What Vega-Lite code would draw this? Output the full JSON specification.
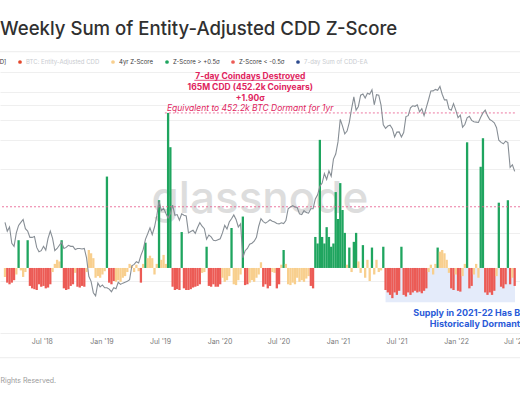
{
  "$schema": "https://vega.github.io/schema/vega-lite/v6.json",
  "description": "Weekly sum of entity-adjusted CDD z-score with BTC price (log)",
  "width": 520,
  "height": 263,
  "autosize": "none",
  "padding": {"left": 0, "right": 0, "top": 70, "bottom": 67},
  "background": "white",
  "title": {
    "text": "Weekly Sum of Entity-Adjusted CDD Z-Score",
    "anchor": "start",
    "frame": "group",
    "font": "Inter",
    "fontSize": 18.6,
    "fontWeight": 500,
    "color": "#303030",
    "offset": 13
  },
  "config": {"view": {"stroke": null}, "font": "Inter"},
  "datasets": {
    "weekly": [
      {"d": "2018-03-09", "p": 9300, "z": -0.11, "c": "y"},
      {"d": "2018-03-16", "p": 8200, "z": -0.18, "c": "r"},
      {"d": "2018-03-23", "p": 8700, "z": -0.2, "c": "r"},
      {"d": "2018-03-30", "p": 6900, "z": -0.18, "c": "r"},
      {"d": "2018-04-06", "p": 6600, "z": -0.15, "c": "r"},
      {"d": "2018-04-13", "p": 8000, "z": -0.08, "c": "y"},
      {"d": "2018-04-20", "p": 8900, "z": 0.34, "c": "g"},
      {"d": "2018-04-27", "p": 9300, "z": -0.03, "c": "y"},
      {"d": "2018-05-04", "p": 9700, "z": -0.11, "c": "y"},
      {"d": "2018-05-11", "p": 8500, "z": -0.05, "c": "y"},
      {"d": "2018-05-18", "p": 8200, "z": 0.34, "c": "g"},
      {"d": "2018-05-25", "p": 7500, "z": -0.22, "c": "r"},
      {"d": "2018-06-01", "p": 7500, "z": -0.25, "c": "r"},
      {"d": "2018-06-08", "p": 7600, "z": -0.26, "c": "r"},
      {"d": "2018-06-15", "p": 6500, "z": -0.27, "c": "r"},
      {"d": "2018-06-22", "p": 6100, "z": -0.2, "c": "r"},
      {"d": "2018-06-29", "p": 6200, "z": -0.23, "c": "r"},
      {"d": "2018-07-06", "p": 6600, "z": -0.22, "c": "r"},
      {"d": "2018-07-13", "p": 6250, "z": -0.25, "c": "r"},
      {"d": "2018-07-20", "p": 7400, "z": -0.24, "c": "r"},
      {"d": "2018-07-27", "p": 8200, "z": -0.2, "c": "r"},
      {"d": "2018-08-03", "p": 7400, "z": -0.05, "c": "y"},
      {"d": "2018-08-10", "p": 6200, "z": 0.05, "c": "y"},
      {"d": "2018-08-17", "p": 6400, "z": 0.1, "c": "y"},
      {"d": "2018-08-24", "p": 6700, "z": 0.08, "c": "y"},
      {"d": "2018-08-31", "p": 7000, "z": 0.34, "c": "g"},
      {"d": "2018-09-07", "p": 6400, "z": -0.25, "c": "r"},
      {"d": "2018-09-14", "p": 6500, "z": -0.27, "c": "r"},
      {"d": "2018-09-21", "p": 6700, "z": -0.26, "c": "r"},
      {"d": "2018-09-28", "p": 6600, "z": -0.22, "c": "r"},
      {"d": "2018-10-05", "p": 6600, "z": -0.2, "c": "r"},
      {"d": "2018-10-12", "p": 6300, "z": -0.06, "c": "y"},
      {"d": "2018-10-19", "p": 6400, "z": -0.23, "c": "r"},
      {"d": "2018-10-26", "p": 6400, "z": -0.24, "c": "r"},
      {"d": "2018-11-02", "p": 6350, "z": -0.22, "c": "r"},
      {"d": "2018-11-09", "p": 6400, "z": -0.23, "c": "r"},
      {"d": "2018-11-16", "p": 5600, "z": -0.05, "c": "y"},
      {"d": "2018-11-23", "p": 4300, "z": 0.22, "c": "y"},
      {"d": "2018-11-30", "p": 4000, "z": 0.18, "c": "y"},
      {"d": "2018-12-07", "p": 3400, "z": 0.12, "c": "y"},
      {"d": "2018-12-14", "p": 3250, "z": -0.12, "c": "y"},
      {"d": "2018-12-21", "p": 3900, "z": -0.1, "c": "y"},
      {"d": "2018-12-28", "p": 3700, "z": -0.12, "c": "y"},
      {"d": "2019-01-04", "p": 3800, "z": -0.08, "c": "y"},
      {"d": "2019-01-11", "p": 3650, "z": -0.04, "c": "y"},
      {"d": "2019-01-18", "p": 3650, "z": 1.12, "c": "g"},
      {"d": "2019-01-25", "p": 3580, "z": -0.18, "c": "r"},
      {"d": "2019-02-01", "p": 3450, "z": -0.2, "c": "r"},
      {"d": "2019-02-08", "p": 3650, "z": -0.16, "c": "r"},
      {"d": "2019-02-15", "p": 3600, "z": -0.17, "c": "y"},
      {"d": "2019-02-22", "p": 3950, "z": -0.15, "c": "y"},
      {"d": "2019-03-01", "p": 3830, "z": -0.17, "c": "y"},
      {"d": "2019-03-08", "p": 3900, "z": -0.12, "c": "y"},
      {"d": "2019-03-15", "p": 3950, "z": -0.1, "c": "y"},
      {"d": "2019-03-22", "p": 4000, "z": -0.05, "c": "y"},
      {"d": "2019-03-29", "p": 4100, "z": 0.05, "c": "y"},
      {"d": "2019-04-05", "p": 5000, "z": 0.03, "c": "y"},
      {"d": "2019-04-12", "p": 5100, "z": -0.05, "c": "y"},
      {"d": "2019-04-19", "p": 5300, "z": 0.04, "c": "y"},
      {"d": "2019-04-26", "p": 5200, "z": -0.04, "c": "y"},
      {"d": "2019-05-03", "p": 5800, "z": -0.18, "c": "r"},
      {"d": "2019-05-10", "p": 6300, "z": 0.05, "c": "y"},
      {"d": "2019-05-17", "p": 7300, "z": 0.31, "c": "g"},
      {"d": "2019-05-24", "p": 7900, "z": 0.12, "c": "y"},
      {"d": "2019-05-31", "p": 8600, "z": 0.15, "c": "y"},
      {"d": "2019-06-07", "p": 7800, "z": 0.12, "c": "y"},
      {"d": "2019-06-14", "p": 8700, "z": -0.08, "c": "y"},
      {"d": "2019-06-21", "p": 10200, "z": 0.05, "c": "y"},
      {"d": "2019-06-28", "p": 12600, "z": 0.83, "c": "g"},
      {"d": "2019-07-05", "p": 11000, "z": 0.1, "c": "y"},
      {"d": "2019-07-12", "p": 11400, "z": 0.16, "c": "y"},
      {"d": "2019-07-19", "p": 10600, "z": 0.05, "c": "y"},
      {"d": "2019-07-26", "p": 9900, "z": 1.9, "c": "g"},
      {"d": "2019-08-02", "p": 10500, "z": 1.48, "c": "g"},
      {"d": "2019-08-09", "p": 11900, "z": -0.23, "c": "r"},
      {"d": "2019-08-16", "p": 10300, "z": -0.27, "c": "r"},
      {"d": "2019-08-23", "p": 10400, "z": -0.26, "c": "r"},
      {"d": "2019-08-30", "p": 9600, "z": -0.27, "c": "r"},
      {"d": "2019-09-06", "p": 10500, "z": 0.44, "c": "g"},
      {"d": "2019-09-13", "p": 10300, "z": -0.25, "c": "r"},
      {"d": "2019-09-20", "p": 10200, "z": -0.27, "c": "r"},
      {"d": "2019-09-27", "p": 8000, "z": -0.27, "c": "r"},
      {"d": "2019-10-04", "p": 8150, "z": -0.26, "c": "r"},
      {"d": "2019-10-11", "p": 8300, "z": -0.24, "c": "r"},
      {"d": "2019-10-18", "p": 7950, "z": -0.23, "c": "r"},
      {"d": "2019-10-25", "p": 8650, "z": -0.22, "c": "r"},
      {"d": "2019-11-01", "p": 9250, "z": -0.2, "c": "r"},
      {"d": "2019-11-08", "p": 8800, "z": -0.06, "c": "y"},
      {"d": "2019-11-15", "p": 8500, "z": -0.05, "c": "y"},
      {"d": "2019-11-22", "p": 7300, "z": 0.26, "c": "g"},
      {"d": "2019-11-29", "p": 7750, "z": -0.22, "c": "r"},
      {"d": "2019-12-06", "p": 7550, "z": -0.23, "c": "r"},
      {"d": "2019-12-13", "p": 7200, "z": -0.2, "c": "r"},
      {"d": "2019-12-20", "p": 7150, "z": -0.23, "c": "r"},
      {"d": "2019-12-27", "p": 7250, "z": -0.23, "c": "r"},
      {"d": "2020-01-03", "p": 7350, "z": -0.2, "c": "r"},
      {"d": "2020-01-10", "p": 8000, "z": -0.12, "c": "y"},
      {"d": "2020-01-17", "p": 8900, "z": -0.17, "c": "y"},
      {"d": "2020-01-24", "p": 8450, "z": -0.15, "c": "y"},
      {"d": "2020-01-31", "p": 9350, "z": -0.1, "c": "y"},
      {"d": "2020-02-07", "p": 9800, "z": 0.49, "c": "g"},
      {"d": "2020-02-14", "p": 10350, "z": -0.2, "c": "y"},
      {"d": "2020-02-21", "p": 9700, "z": -0.21, "c": "y"},
      {"d": "2020-02-28", "p": 8700, "z": -0.15, "c": "y"},
      {"d": "2020-03-06", "p": 9100, "z": -0.08, "c": "y"},
      {"d": "2020-03-13", "p": 5600, "z": 0.63, "c": "g"},
      {"d": "2020-03-20", "p": 6200, "z": -0.21, "c": "r"},
      {"d": "2020-03-27", "p": 6400, "z": -0.2, "c": "r"},
      {"d": "2020-04-03", "p": 6800, "z": -0.18, "c": "y"},
      {"d": "2020-04-10", "p": 6900, "z": -0.15, "c": "y"},
      {"d": "2020-04-17", "p": 7100, "z": -0.17, "c": "y"},
      {"d": "2020-04-24", "p": 7500, "z": -0.12, "c": "y"},
      {"d": "2020-05-01", "p": 8800, "z": -0.08, "c": "y"},
      {"d": "2020-05-08", "p": 9800, "z": 0.07, "c": "y"},
      {"d": "2020-05-15", "p": 9400, "z": -0.23, "c": "r"},
      {"d": "2020-05-22", "p": 9200, "z": -0.2, "c": "r"},
      {"d": "2020-05-29", "p": 9400, "z": -0.25, "c": "r"},
      {"d": "2020-06-05", "p": 9650, "z": -0.22, "c": "r"},
      {"d": "2020-06-12", "p": 9450, "z": -0.05, "c": "y"},
      {"d": "2020-06-19", "p": 9350, "z": -0.06, "c": "y"},
      {"d": "2020-06-26", "p": 9150, "z": -0.25, "c": "r"},
      {"d": "2020-07-03", "p": 9100, "z": -0.2, "c": "r"},
      {"d": "2020-07-10", "p": 9250, "z": 0.04, "c": "y"},
      {"d": "2020-07-17", "p": 9150, "z": 0.22, "c": "g"},
      {"d": "2020-07-24", "p": 9550, "z": 0.05, "c": "y"},
      {"d": "2020-07-31", "p": 11300, "z": -0.2, "c": "y"},
      {"d": "2020-08-07", "p": 11600, "z": -0.21, "c": "y"},
      {"d": "2020-08-14", "p": 11800, "z": -0.18, "c": "y"},
      {"d": "2020-08-21", "p": 11600, "z": -0.2, "c": "y"},
      {"d": "2020-08-28", "p": 11500, "z": -0.12, "c": "y"},
      {"d": "2020-09-04", "p": 10500, "z": -0.17, "c": "y"},
      {"d": "2020-09-11", "p": 10400, "z": -0.15, "c": "y"},
      {"d": "2020-09-18", "p": 11000, "z": -0.17, "c": "y"},
      {"d": "2020-09-25", "p": 10700, "z": -0.13, "c": "y"},
      {"d": "2020-10-02", "p": 10600, "z": -0.1, "c": "y"},
      {"d": "2020-10-09", "p": 11300, "z": -0.22, "c": "r"},
      {"d": "2020-10-16", "p": 11300, "z": -0.25, "c": "r"},
      {"d": "2020-10-23", "p": 13000, "z": 0.38, "c": "g"},
      {"d": "2020-10-30", "p": 13800, "z": 0.3, "c": "g"},
      {"d": "2020-11-06", "p": 15600, "z": 1.57, "c": "g"},
      {"d": "2020-11-13", "p": 16300, "z": 0.38, "c": "g"},
      {"d": "2020-11-20", "p": 18700, "z": 0.3, "c": "g"},
      {"d": "2020-11-27", "p": 17200, "z": 0.5, "c": "g"},
      {"d": "2020-12-04", "p": 19400, "z": 0.38, "c": "g"},
      {"d": "2020-12-11", "p": 18000, "z": 0.26, "c": "g"},
      {"d": "2020-12-18", "p": 23000, "z": 0.3, "c": "g"},
      {"d": "2020-12-25", "p": 24700, "z": 0.93, "c": "g"},
      {"d": "2021-01-01", "p": 29400, "z": 0.6, "c": "g"},
      {"d": "2021-01-08", "p": 40600, "z": 1.04, "c": "g"},
      {"d": "2021-01-15", "p": 36800, "z": 0.71, "c": "g"},
      {"d": "2021-01-22", "p": 33000, "z": 0.43, "c": "g"},
      {"d": "2021-01-29", "p": 34300, "z": 0.04, "c": "y"},
      {"d": "2021-02-05", "p": 38900, "z": 0.25, "c": "g"},
      {"d": "2021-02-12", "p": 47200, "z": -0.05, "c": "y"},
      {"d": "2021-02-19", "p": 55900, "z": 0.32, "c": "g"},
      {"d": "2021-02-26", "p": 46300, "z": 0.43, "c": "g"},
      {"d": "2021-03-05", "p": 48800, "z": 0.08, "c": "y"},
      {"d": "2021-03-12", "p": 57300, "z": -0.06, "c": "y"},
      {"d": "2021-03-19", "p": 58300, "z": 0.28, "c": "g"},
      {"d": "2021-03-26", "p": 55100, "z": -0.12, "c": "y"},
      {"d": "2021-04-02", "p": 59000, "z": 0.1, "c": "y"},
      {"d": "2021-04-09", "p": 58100, "z": -0.16, "c": "y"},
      {"d": "2021-04-16", "p": 62000, "z": 0.25, "c": "g"},
      {"d": "2021-04-23", "p": 50000, "z": -0.08, "c": "y"},
      {"d": "2021-04-30", "p": 57800, "z": 0.1, "c": "y"},
      {"d": "2021-05-07", "p": 57400, "z": -0.05, "c": "y"},
      {"d": "2021-05-14", "p": 49700, "z": -0.03, "c": "y"},
      {"d": "2021-05-21", "p": 37500, "z": 0.26, "c": "g"},
      {"d": "2021-05-28", "p": 35700, "z": -0.27, "c": "r"},
      {"d": "2021-06-04", "p": 36900, "z": -0.3, "c": "r"},
      {"d": "2021-06-11", "p": 37300, "z": -0.33, "c": "r"},
      {"d": "2021-06-18", "p": 35500, "z": -0.37, "c": "r"},
      {"d": "2021-06-25", "p": 31600, "z": -0.3, "c": "r"},
      {"d": "2021-07-02", "p": 33800, "z": -0.33, "c": "r"},
      {"d": "2021-07-09", "p": 33900, "z": -0.28, "c": "r"},
      {"d": "2021-07-16", "p": 31500, "z": 0.26, "c": "g"},
      {"d": "2021-07-23", "p": 33600, "z": -0.33, "c": "r"},
      {"d": "2021-07-30", "p": 42200, "z": -0.35, "c": "r"},
      {"d": "2021-08-06", "p": 42800, "z": -0.3, "c": "r"},
      {"d": "2021-08-13", "p": 47800, "z": -0.33, "c": "r"},
      {"d": "2021-08-20", "p": 49300, "z": -0.3, "c": "r"},
      {"d": "2021-08-27", "p": 48900, "z": -0.28, "c": "r"},
      {"d": "2021-09-03", "p": 50000, "z": -0.3, "c": "r"},
      {"d": "2021-09-10", "p": 45200, "z": -0.29, "c": "r"},
      {"d": "2021-09-17", "p": 47300, "z": -0.31, "c": "r"},
      {"d": "2021-09-24", "p": 42800, "z": -0.28, "c": "r"},
      {"d": "2021-10-01", "p": 48200, "z": -0.25, "c": "r"},
      {"d": "2021-10-08", "p": 53900, "z": -0.05, "c": "y"},
      {"d": "2021-10-15", "p": 60900, "z": 0.04, "c": "y"},
      {"d": "2021-10-22", "p": 61000, "z": -0.08, "c": "y"},
      {"d": "2021-10-29", "p": 62300, "z": 0.05, "c": "y"},
      {"d": "2021-11-05", "p": 61500, "z": 0.25, "c": "g"},
      {"d": "2021-11-12", "p": 65000, "z": 0.2, "c": "y"},
      {"d": "2021-11-19", "p": 58100, "z": 0.22, "c": "y"},
      {"d": "2021-11-26", "p": 53600, "z": 0.18, "c": "y"},
      {"d": "2021-12-03", "p": 53600, "z": 0.1, "c": "y"},
      {"d": "2021-12-10", "p": 47100, "z": -0.06, "c": "y"},
      {"d": "2021-12-17", "p": 46200, "z": -0.25, "c": "r"},
      {"d": "2021-12-24", "p": 50800, "z": -0.27, "c": "r"},
      {"d": "2021-12-31", "p": 46300, "z": -0.08, "c": "y"},
      {"d": "2022-01-07", "p": 41600, "z": -0.28, "c": "r"},
      {"d": "2022-01-14", "p": 43100, "z": -0.29, "c": "r"},
      {"d": "2022-01-21", "p": 36300, "z": -0.1, "c": "y"},
      {"d": "2022-01-28", "p": 37700, "z": 0.05, "c": "y"},
      {"d": "2022-02-04", "p": 41500, "z": 1.54, "c": "g"},
      {"d": "2022-02-11", "p": 42400, "z": -0.25, "c": "r"},
      {"d": "2022-02-18", "p": 40000, "z": -0.22, "c": "r"},
      {"d": "2022-02-25", "p": 39200, "z": -0.08, "c": "y"},
      {"d": "2022-03-04", "p": 39000, "z": 0.05, "c": "y"},
      {"d": "2022-03-11", "p": 38800, "z": -0.12, "c": "y"},
      {"d": "2022-03-18", "p": 41800, "z": 1.24, "c": "g"},
      {"d": "2022-03-25", "p": 44500, "z": 1.59, "c": "g"},
      {"d": "2022-04-01", "p": 46300, "z": -0.3, "c": "r"},
      {"d": "2022-04-08", "p": 42800, "z": -0.33, "c": "r"},
      {"d": "2022-04-15", "p": 40500, "z": -0.3, "c": "r"},
      {"d": "2022-04-22", "p": 39700, "z": -0.33, "c": "r"},
      {"d": "2022-04-29", "p": 38600, "z": -0.28, "c": "r"},
      {"d": "2022-05-06", "p": 36000, "z": -0.1, "c": "y"},
      {"d": "2022-05-13", "p": 30100, "z": 0.8, "c": "g"},
      {"d": "2022-05-20", "p": 29200, "z": -0.23, "c": "r"},
      {"d": "2022-05-27", "p": 28600, "z": -0.25, "c": "r"},
      {"d": "2022-06-03", "p": 29700, "z": -0.2, "c": "r"},
      {"d": "2022-06-10", "p": 29100, "z": 0.83, "c": "g"},
      {"d": "2022-06-17", "p": 20400, "z": -0.2, "c": "r"},
      {"d": "2022-06-24", "p": 21200, "z": -0.12, "c": "y"},
      {"d": "2022-07-01", "p": 19300, "z": -0.22, "c": "r"}
    ]
  },
  "resolve": {"scale": {"y": "independent"}},
  "layer": [
    {
      "layer": [
        {
          "data": {"values": [{"d": "2021-05-28", "d2": "2022-07-02", "z": 0, "z2": -0.42}]},
          "mark": {"type": "rect", "color": "#e4ebfa"},
          "encoding": {
            "x": {"field": "d", "type": "temporal", "scale": {"domain": [{"year": 2018, "month": 3, "date": 9}, {"year": 2022, "month": 7, "date": 2}]}},
            "x2": {"field": "d2"},
            "y": {"field": "z", "type": "quantitative", "scale": {"domain": [-0.797, 2.426], "nice": false, "zero": false}, "axis": null},
            "y2": {"field": "z2"}
          }
        },
        {
          "data": {"values": [{"d": "2020-05-05", "z": 0.67, "t": "glassnode"}]},
          "mark": {"type": "text", "font": "Inter", "fontSize": 44, "fontWeight": 500, "color": "#d2d2d2", "opacity": 0.75, "align": "center", "baseline": "alphabetic"},
          "encoding": {
            "x": {"field": "d", "type": "temporal", "scale": {"domain": [{"year": 2018, "month": 3, "date": 9}, {"year": 2022, "month": 7, "date": 2}]}},
            "y": {"field": "z", "type": "quantitative", "scale": {"domain": [-0.797, 2.426], "nice": false, "zero": false}, "axis": null},
            "text": {"field": "t"}
          }
        },
        {
          "data": {"name": "weekly"},
          "mark": {"type": "bar", "width": 2.3},
          "encoding": {
            "x": {
              "field": "d",
              "type": "temporal",
              "scale": {"domain": [{"year": 2018, "month": 3, "date": 9}, {"year": 2022, "month": 7, "date": 2}]},
              "axis": {
                "title": null,
                "format": "%b '%y",
                "tickCount": {"interval": "month", "step": 6},
                "labelFont": "Inter",
                "labelFontSize": 7,
                "labelColor": "#7a7a7a",
                "labelPadding": 4,
                "labelOverlap": false,
                "labelBound": false,
                "labelFlush": false,
                "ticks": false,
                "grid": false,
                "domainColor": "#eeeeee"
              }
            },
            "y": {"field": "z", "type": "quantitative", "scale": {"domain": [-0.797, 2.426], "nice": false, "zero": false}, "axis": null},
            "color": {
              "field": "c",
              "type": "nominal",
              "scale": {
                "domain": ["p", "e", "y", "g", "r", "s"],
                "range": ["#8e969d", "#e4472b", "#f8cf8e", "#1fa55f", "#ec5b55", "#2d4b8e"]
              },
              "legend": {
                "orient": "none",
                "legendX": -36,
                "legendY": -11,
                "direction": "horizontal",
                "title": null,
                "padding": 0,
                "symbolType": "circle",
                "symbolSize": 14,
                "labelFont": "Inter",
                "labelFontSize": 6,
                "labelOffset": 3,
                "columnPadding": 10,
                "labelExpr": "{'p': 'Price [USD]', 'e': 'BTC: Entity-Adjusted CDD', 'y': '4yr Z-Score', 'g': 'Z-Score > +0.5σ', 'r': 'Z-Score < -0.5σ', 's': '7-day Sum of CDD-EA'}[datum.value]",
                "encode": {
                  "labels": {"update": {"fill": {"signal": "datum.value == 'e' || datum.value == 's' ? '#c9ccd0' : '#3a3a3a'"}}}
                }
              }
            }
          }
        },
        {
          "data": {"values": [{"z": 0.75}]},
          "mark": {"type": "rule", "color": "#e8578a", "strokeWidth": 0.8, "strokeDash": [2, 2]},
          "encoding": {
            "y": {"field": "z", "type": "quantitative", "scale": {"domain": [-0.797, 2.426], "nice": false, "zero": false}, "axis": null}
          }
        },
        {
          "data": {"values": [{"d": "2019-07-16", "d2": "2022-07-02", "z": 1.9}]},
          "mark": {"type": "rule", "color": "#e8578a", "strokeWidth": 0.8, "strokeDash": [2, 2]},
          "encoding": {
            "x": {"field": "d", "type": "temporal", "scale": {"domain": [{"year": 2018, "month": 3, "date": 9}, {"year": 2022, "month": 7, "date": 2}]}},
            "x2": {"field": "d2"},
            "y": {"field": "z", "type": "quantitative", "scale": {"domain": [-0.797, 2.426], "nice": false, "zero": false}, "axis": null}
          }
        },
        {
          "data": {"values": [{"d": "2019-10-15", "d2": "2020-09-19", "z": 2.3}]},
          "mark": {"type": "rule", "color": "#e0245e", "strokeWidth": 0.8},
          "encoding": {
            "x": {"field": "d", "type": "temporal", "scale": {"domain": [{"year": 2018, "month": 3, "date": 9}, {"year": 2022, "month": 7, "date": 2}]}},
            "x2": {"field": "d2"},
            "y": {"field": "z", "type": "quantitative", "scale": {"domain": [-0.797, 2.426], "nice": false, "zero": false}, "axis": null}
          }
        },
        {
          "data": {"values": [
            {"d": "2020-04-05", "z": 2.35, "t": "7-day Coindays Destroyed"},
            {"d": "2020-04-05", "z": 2.215, "t": "165M CDD (452.2k Coinyears)"},
            {"d": "2020-04-05", "z": 2.08, "t": "+1.90σ"}
          ]},
          "mark": {"type": "text", "font": "Inter", "fontSize": 8.5, "fontWeight": "bold", "color": "#e0245e", "align": "center", "baseline": "middle"},
          "encoding": {
            "x": {"field": "d", "type": "temporal", "scale": {"domain": [{"year": 2018, "month": 3, "date": 9}, {"year": 2022, "month": 7, "date": 2}]}},
            "y": {"field": "z", "type": "quantitative", "scale": {"domain": [-0.797, 2.426], "nice": false, "zero": false}, "axis": null},
            "text": {"field": "t"}
          }
        },
        {
          "data": {"values": [{"d": "2020-04-05", "z": 1.96, "t": "Equivalent to 452.2k BTC Dormant for 1yr"}]},
          "mark": {"type": "text", "font": "Inter", "fontSize": 8.5, "fontStyle": "italic", "color": "#e0245e", "align": "center", "baseline": "middle"},
          "encoding": {
            "x": {"field": "d", "type": "temporal", "scale": {"domain": [{"year": 2018, "month": 3, "date": 9}, {"year": 2022, "month": 7, "date": 2}]}},
            "y": {"field": "z", "type": "quantitative", "scale": {"domain": [-0.797, 2.426], "nice": false, "zero": false}, "axis": null},
            "text": {"field": "t"}
          }
        },
        {
          "data": {"values": [
            {"d": "2022-02-28", "z": -0.55, "t": "Supply in 2021-22 Has Been"},
            {"d": "2022-02-28", "z": -0.685, "t": "Historically Dormant"}
          ]},
          "mark": {"type": "text", "font": "Inter", "fontSize": 9, "fontWeight": "bold", "color": "#2a5ad8", "align": "center", "baseline": "middle"},
          "encoding": {
            "x": {"field": "d", "type": "temporal", "scale": {"domain": [{"year": 2018, "month": 3, "date": 9}, {"year": 2022, "month": 7, "date": 2}]}},
            "y": {"field": "z", "type": "quantitative", "scale": {"domain": [-0.797, 2.426], "nice": false, "zero": false}, "axis": null},
            "text": {"field": "t"}
          }
        },
        {
          "data": {"values": [{"z": 2.65}, {"z": -1.1}]},
          "mark": {"type": "rule", "color": "#ececec", "strokeWidth": 1},
          "encoding": {
            "y": {"field": "z", "type": "quantitative", "scale": {"domain": [-0.797, 2.426], "nice": false, "zero": false}, "axis": null}
          }
        },
        {
          "data": {"values": [{"d": "2018-08-14", "z": -1.385, "t": "© 2022 Glassnode. All Rights Reserved."}]},
          "mark": {"type": "text", "font": "Inter", "fontSize": 7, "color": "#9a9a9a", "align": "right", "baseline": "middle"},
          "encoding": {
            "x": {"field": "d", "type": "temporal", "scale": {"domain": [{"year": 2018, "month": 3, "date": 9}, {"year": 2022, "month": 7, "date": 2}]}},
            "y": {"field": "z", "type": "quantitative", "scale": {"domain": [-0.797, 2.426], "nice": false, "zero": false}, "axis": null},
            "text": {"field": "t"}
          }
        }
      ]
    },
    {
      "data": {"name": "weekly"},
      "mark": {"type": "line", "color": "#878e95", "strokeWidth": 1.1},
      "encoding": {
        "x": {"field": "d", "type": "temporal", "scale": {"domain": [{"year": 2018, "month": 3, "date": 9}, {"year": 2022, "month": 7, "date": 2}]}},
        "y": {
          "field": "p",
          "type": "quantitative",
          "scale": {"type": "log", "domain": [1911, 82200], "nice": false},
          "axis": {
            "title": null,
            "values": [4000, 8000, 20000, 30000, 40000, 50000, 60000, 80000],
            "labels": false,
            "ticks": false,
            "domain": false,
            "grid": true,
            "gridColor": "#efefef"
          }
        }
      }
    }
  ]
}
